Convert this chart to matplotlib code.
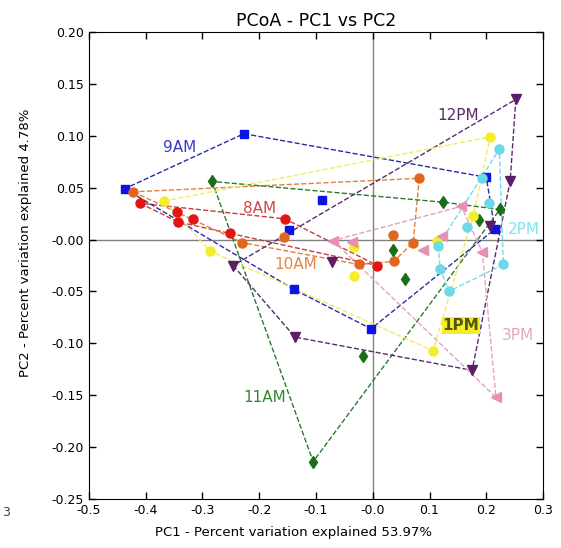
import numpy as np
import matplotlib
matplotlib.use("Agg")
import matplotlib.pyplot as plt

# ------------------------------------------------------------
# PCoA coordinates per sampling time
# ------------------------------------------------------------
groups = ["8AM", "9AM", "10AM", "11AM", "12PM", "1PM", "2PM", "3PM"]

pc1_8am = [-0.410, -0.345, -0.343, -0.317, -0.252, -0.155, 0.008]
pc2_8am = [0.035, 0.027, 0.017, 0.020, 0.006, 0.020, -0.025]

pc1_9am = [-0.437, -0.227, -0.089, -0.148, -0.139, -0.003, 0.200, 0.215]
pc2_9am = [0.049, 0.102, 0.038, 0.009, -0.048, -0.086, 0.060, 0.010]

pc1_10am = [-0.422, 0.082, 0.036, 0.071, 0.037, -0.024, -0.156, -0.230]
pc2_10am = [0.046, 0.059, 0.004, -0.003, -0.021, -0.024, 0.002, -0.003]

pc1_11am = [-0.283, 0.124, 0.187, 0.224, 0.036, 0.057, -0.017, -0.105]
pc2_11am = [0.056, 0.036, 0.019, 0.029, -0.010, -0.038, -0.112, -0.214]

pc1_12pm = [0.252, 0.242, 0.207, 0.175, -0.137, -0.246, -0.072]
pc2_12pm = [0.135, 0.056, 0.013, -0.126, -0.094, -0.025, -0.022]

pc1_1pm = [-0.368, -0.287, -0.033, -0.033, 0.106, 0.207, 0.113, 0.177]
pc2_1pm = [0.037, -0.011, -0.007, -0.035, -0.107, 0.099, -0.001, 0.023]

pc1_2pm = [0.223, 0.193, 0.205, 0.166, 0.115, 0.119, 0.134, 0.230]
pc2_2pm = [0.087, 0.059, 0.035, 0.012, -0.006, -0.028, -0.050, -0.024]

pc1_3pm = [-0.070, -0.037, 0.089, 0.122, 0.156, 0.193, 0.217]
pc2_3pm = [-0.001, -0.002, -0.010, 0.003, 0.032, -0.012, -0.152]

pc1 = [pc1_8am, pc1_9am, pc1_10am, pc1_11am, pc1_12pm, pc1_1pm, pc1_2pm, pc1_3pm]
pc2 = [pc2_8am, pc2_9am, pc2_10am, pc2_11am, pc2_12pm, pc2_1pm, pc2_2pm, pc2_3pm]

# group label positions (data coords)
label_x = [-0.200, -0.340, -0.135, -0.190, 0.150, 0.155, 0.267, 0.256]
label_y = [0.030, 0.089, -0.024, -0.152, 0.120, -0.083, 0.010, -0.092]

# style per group
marker_colors = ["#e41414", "#0a14e6", "#e0661e", "#1a6e1a", "#5c1c6c",
                 "#f4ee2a", "#6cd8e8", "#e890b4"]
line_colors = ["#c83c3c", "#2a2aa8", "#e0803c", "#2a7a2a", "#5a2a6a",
               "#f0ec60", "#70dcec", "#e8a0bc"]
label_colors = ["#d04848", "#3a3ac0", "#e08848", "#2f8a2f", "#5a2a6a",
                "#55550a", "#80e4ec", "#e0a8bc"]
markers = ["o", "s", "o", "d", "v", "o", "o", "<"]


def convex_hull(xs, ys):
    # monotone chain, returns closed polygon
    pts = sorted(set(zip(xs, ys)))
    def cross(o, a, b):
        return (a[0] - o[0]) * (b[1] - o[1]) - (a[1] - o[1]) * (b[0] - o[0])
    lower, upper = [], []
    for p in pts:
        while len(lower) >= 2 and cross(lower[-2], lower[-1], p) <= 0:
            lower.pop()
        lower.append(p)
    for p in reversed(pts):
        while len(upper) >= 2 and cross(upper[-2], upper[-1], p) <= 0:
            upper.pop()
        upper.append(p)
    hull = lower[:-1] + upper[:-1]
    hull.append(hull[0])
    return np.array(hull)


fig = plt.figure(figsize=(5.61, 5.48), dpi=100)
ax = fig.add_axes([0.1586, 0.0894, 0.8094, 0.8522])

ax.axhline(0, color="#808080", lw=1.0, zorder=1)
ax.axvline(0, color="#808080", lw=1.0, zorder=1)

for i, g in enumerate(groups):
    hull = convex_hull(pc1[i], pc2[i])
    ax.plot(hull[:, 0], hull[:, 1], ls="--", lw=1.0, color=line_colors[i], zorder=2)

for i, g in enumerate(groups):
    ax.plot(pc1[i], pc2[i], ls="none", marker=markers[i], ms=6.5 if markers[i] != "s" else 6,
            color=marker_colors[i], mec=marker_colors[i], zorder=3)

for i, g in enumerate(groups):
    if g == "1PM":
        ax.text(label_x[i], label_y[i], g, color=label_colors[i], fontsize=11,
                fontweight="bold", ha="center", va="center", zorder=4,
                bbox=dict(boxstyle="square,pad=0.05", fc="#f4ee2a", ec="none"))
    else:
        ax.text(label_x[i], label_y[i], g, color=label_colors[i], fontsize=11,
                ha="center", va="center", zorder=4)

ax.set_xlim(-0.5, 0.3)
ax.set_ylim(-0.25, 0.20)
ax.set_xticks(np.arange(-0.5, 0.31, 0.1))
ax.set_yticks(np.arange(-0.25, 0.201, 0.05))
ax.xaxis.set_major_formatter(plt.FormatStrFormatter("%.1f"))
ax.yaxis.set_major_formatter(plt.FormatStrFormatter("%.2f"))
ax.tick_params(direction="in", top=True, right=True, length=5, width=1, labelsize=9)

ax.set_title("PCoA - PC1 vs PC2", fontsize=12.5, pad=4)
ax.set_xlabel("PC1 - Percent variation explained 53.97%", fontsize=9.5)
ax.set_ylabel("PC2 - Percent variation explained 4.78%", fontsize=9.5)
ax.xaxis.set_label_coords(0.4515, -0.058)
ax.yaxis.set_label_coords(-0.125, 0.548)

# stray fragment of a neighbouring panel at the left edge
fig.text(0.004, 1 - 512 / 548, "3", fontsize=9, color="#404040", va="center")

fig.savefig("out.png", dpi=100)
